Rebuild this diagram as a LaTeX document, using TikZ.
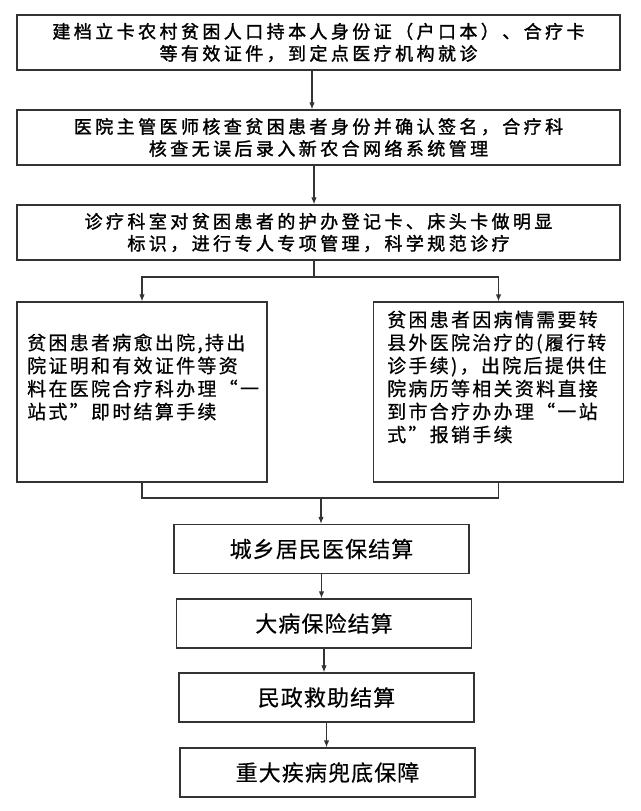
\documentclass[tikz,border=0pt]{standalone}
\usepackage{fontspec}
\newfontfamily\cjkhead[LetterSpace=19,FakeBold=1.5]{Noto Sans CJK SC}
\newfontfamily\cjkside[LetterSpace=12,FakeBold=0.6]{Noto Sans CJK SC}
\newfontfamily\cjkstep[LetterSpace=5,FakeBold=0.4]{Noto Sans CJK SC}
\usetikzlibrary{arrows.meta,positioning}

\begin{document}
\begin{tikzpicture}[x=1pt,y=-1pt,
    box/.style={draw=black!80,line width=1.2pt,rectangle,inner sep=0pt},
    headbox/.style={box,minimum width=603pt,minimum height=55pt,align=center,
        font=\cjkhead\fontsize{18}{22}\selectfont},
    sidebox/.style={box,minimum width=250pt,minimum height=180pt},
    sidetext/.style={anchor=west,inner sep=0pt,align=left,
        font=\cjkside\fontsize{19}{23}\selectfont},
    paybox/.style={box,minimum width=295pt,minimum height=49pt,
        font=\cjkstep\fontsize{22}{26}\selectfont},
    link/.style={draw=black!80,line width=1.2pt},
    arr/.style={link,-{Latex[length=7pt,width=5.5pt]}}]
    \fill[white] (0,0) rectangle (640,811);
    \useasboundingbox (0,0) rectangle (640,811);

    \node[headbox] (visit) at (318.5,42.5) {建档立卡农村贫困人口持本人身份证（户口本）、合疗卡\\等有效证件，到定点医疗机构就诊};
    \node[headbox] (check) at (318.5,137.5) {医院主管医师核查贫困患者身份并确认签名，合疗科\\核查无误后录入新农合网络系统管理};
    \node[headbox] (treat) at (318.5,232.5) {诊疗科室对贫困患者的护办登记卡、床头卡做明显\\标识，进行专人专项管理，科学规范诊疗};

    \node[sidebox] (cured) at (142,392) {};
    \node[sidebox] (transfer) at (498.5,392) {};
    \node[sidetext] (curedtext) at (27,377) {贫困患者病愈出院,持出\\院证明和有效证件等资\\料在医院合疗科办理“一\\站式”即时结算手续};
    \node[sidetext] (transfertext) at (387,377) {贫困患者因病情需要转\\县外医院治疗的(履行转\\诊手续)，出院后提供住\\院病历等相关资料直接\\到市合疗办办理“一站\\式”报销手续};

    \node[paybox] (pay1) at (321.5,549) {城乡居民医保结算};
    \node[paybox] (pay2) at (324,623.5) {大病保险结算};
    \node[paybox] (pay3) at (326.5,697.5) {民政救助结算};
    \node[paybox] (pay4) at (327.5,772.5) {重大疾病兜底保障};

    \coordinate (split) at (314,277);
    \coordinate (merge) at (321,498);

    \draw[arr] ([xshift=-6.5pt]visit.south) -- ([xshift=-6.5pt]check.north);
    \draw[arr] ([xshift=-4.5pt]check.south) -- ([xshift=-4.5pt]treat.north);
    \draw[link] (treat.south -| split) -- (split);
    \draw[arr] (split) -| (cured);
    \draw[arr] (split) -| (transfer);
    \draw[link] (cured) |- (merge) -| (transfer);
    \draw[arr] (merge) -- (merge |- pay1.north);
    \foreach \a/\b in {pay1/pay2,pay2/pay3,pay3/pay4}
        \draw[arr] (\a.south) -- (\a.south |- \b.north);
\end{tikzpicture}
\end{document}
